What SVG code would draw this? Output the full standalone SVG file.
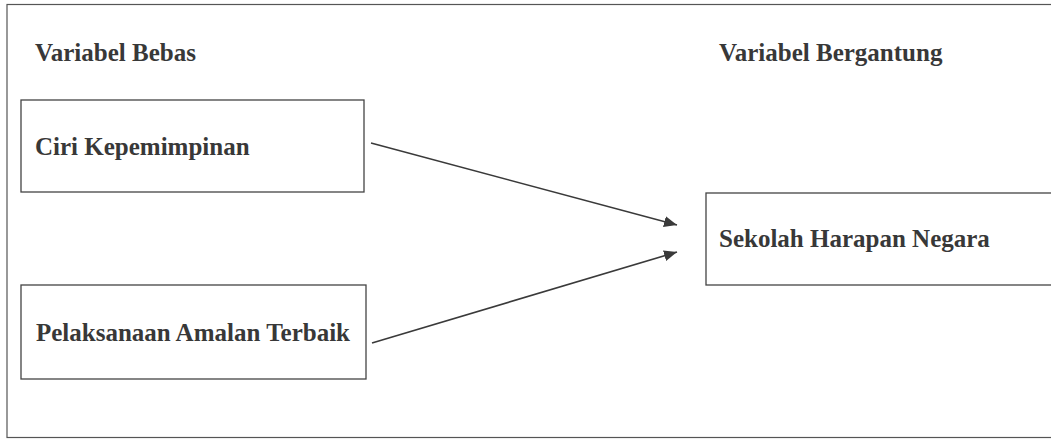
<svg xmlns="http://www.w3.org/2000/svg" width="1051" height="441" viewBox="0 0 1051 441">
  <defs>
    <style>
      .box { fill: #ffffff; stroke: #444444; stroke-width: 1.3; }
      .lbl { font-family: "Liberation Serif", "Times New Roman", serif; font-size: 25px; font-weight: bold; fill: #383838; }
      .conn { stroke: #3a3a3a; stroke-width: 1.6; fill: none; }
    </style>
    <marker id="arrow" viewBox="0 0 13 11" refX="13" refY="5.5" markerWidth="13" markerHeight="11" markerUnits="userSpaceOnUse" orient="auto">
      <path d="M0,0 L13,5.5 L0,11 Z" fill="#3a3a3a"/>
    </marker>
  </defs>
  <rect width="1051" height="441" fill="#ffffff"/>
  <g id="frame">
    <rect x="7" y="4.5" width="1050" height="433" fill="none" stroke="#555555" stroke-width="1.2"/>
  </g>
  <g id="heading-bebas">
    <text class="lbl" x="35" y="61">Variabel Bebas</text>
  </g>
  <g id="heading-bergantung">
    <text class="lbl" x="719" y="61">Variabel Bergantung</text>
  </g>
  <g id="node-ciri">
    <rect class="box" x="21" y="100" width="343" height="92"/>
    <text class="lbl" x="35" y="155">Ciri Kepemimpinan</text>
  </g>
  <g id="node-pelaksanaan">
    <rect class="box" x="21" y="285" width="345" height="94"/>
    <text class="lbl" x="36" y="341">Pelaksanaan Amalan Terbaik</text>
  </g>
  <g id="node-sekolah">
    <rect class="box" x="706" y="193" width="350" height="92"/>
    <text class="lbl" x="719" y="247">Sekolah Harapan Negara</text>
  </g>
  <g id="connectors">
    <line class="conn" x1="371" y1="143" x2="677" y2="225" marker-end="url(#arrow)"/>
    <line class="conn" x1="372" y1="343" x2="677" y2="252" marker-end="url(#arrow)"/>
  </g>
</svg>
